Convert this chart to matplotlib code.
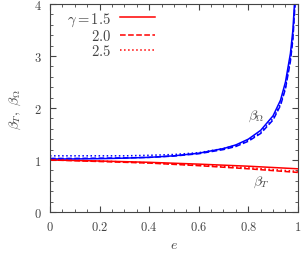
import matplotlib
matplotlib.use("Agg")
import matplotlib.pyplot as plt
from matplotlib.ticker import MultipleLocator, FuncFormatter

plt.rcParams['mathtext.fontset'] = 'cm'
plt.rcParams['font.family'] = 'serif'
plt.rcParams['font.serif'] = ['DejaVu Serif']

# beta_Omega curves
e_om = [0, 0.1, 0.2, 0.3, 0.4, 0.5, 0.6, 0.7, 0.75, 0.8, 0.85, 0.9, 0.93, 0.95, 0.97, 0.98, 0.99]
om_15 = [1.02, 1.02, 1.025, 1.035, 1.05, 1.08, 1.13, 1.22, 1.29, 1.40, 1.57, 1.85, 2.15, 2.50, 3.05, 3.50, 4.3]
om_20 = [1.03, 1.03, 1.035, 1.04, 1.05, 1.075, 1.12, 1.20, 1.26, 1.36, 1.51, 1.77, 2.05, 2.37, 2.90, 3.32, 4.1]
om_25 = [1.08, 1.08, 1.08, 1.08, 1.09, 1.105, 1.14, 1.22, 1.28, 1.38, 1.53, 1.80, 2.08, 2.40, 2.95, 3.37, 4.15]

# beta_T curves
e_t = [0, 0.2, 0.4, 0.6, 0.8, 1.0]
t_15 = [1.00, 0.98, 0.955, 0.92, 0.88, 0.83]
t_20 = [1.00, 0.97, 0.94, 0.89, 0.83, 0.76]
t_25 = [1.01, 0.98, 0.945, 0.90, 0.85, 0.78]

gammas = ['$\\gamma = 1.5$', '$2.0$', '$2.5$']
styles = ['-', '--', ':']

fig = plt.figure(figsize=(3.03, 2.55), dpi=100)
ax = fig.add_axes([0.165, 0.165, 0.818, 0.815])

for om, t, ls, lab in zip([om_15, om_20, om_25], [t_15, t_20, t_25], styles, gammas):
    ax.plot(e_t, t, color='red', ls=ls, lw=1.1, label=lab)
    ax.plot(e_om, om, color='blue', ls=ls, lw=1.1)

ax.set_xlim(0, 1)
ax.set_ylim(0, 4)
ax.xaxis.set_major_locator(MultipleLocator(0.2))
ax.xaxis.set_minor_locator(MultipleLocator(0.05))
ax.yaxis.set_major_locator(MultipleLocator(1))
ax.yaxis.set_minor_locator(MultipleLocator(0.2))
ax.xaxis.set_major_formatter(FuncFormatter(lambda v, p: '$%g$' % round(v, 2)))
ax.yaxis.set_major_formatter(FuncFormatter(lambda v, p: '$%g$' % v))
ax.tick_params(which='both', direction='in', top=True, right=True,
               colors='#444444', labelsize=9)
ax.tick_params(which='major', length=4, pad=6)
ax.tick_params(which='minor', length=2)
for s in ax.spines.values():
    s.set_color('#444444')

ax.set_xlabel('$e$', fontsize=10, color='#444444', labelpad=3)
ax.set_ylabel('$\\beta_T,\\ \\beta_\\Omega$', fontsize=10, color='#444444', labelpad=8)

ax.text(0.80, 1.82, '$\\beta_\\Omega$', fontsize=10, color='#444444')
ax.text(0.82, 0.55, '$\\beta_T$', fontsize=10, color='#444444')

leg = ax.legend(loc='upper left', bbox_to_anchor=(0.04, 1.005), frameon=False,
                markerfirst=False, fontsize=10.5,
                handlelength=2.4, handletextpad=0.6, labelspacing=0.0,
                borderaxespad=0.2, borderpad=0.3)
for t in leg.get_texts():
    t.set_ha('right')
    t.set_color('#444444')
leg._legend_box.align = 'right'

fig.savefig('out.png', dpi=100)
